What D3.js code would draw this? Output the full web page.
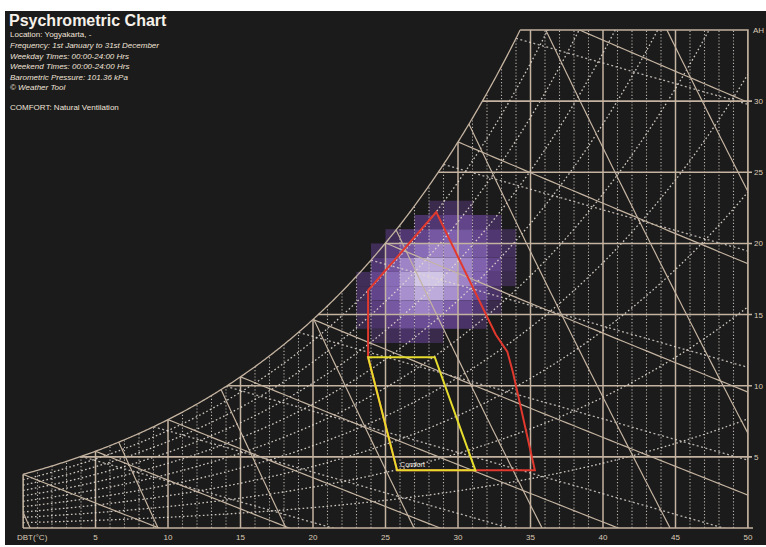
<!DOCTYPE html>
<html>
<head>
<meta charset="utf-8">
<script src="https://cdn.jsdelivr.net/npm/d3@7"></script>
<style>
  body { margin: 0; background: #ffffff; }
  svg { display: block; font-family: "Liberation Sans", Arial, sans-serif; }
</style>
</head>
<body>
<svg id="chart" width="766" height="547"></svg>
<script>
// ---- chart furniture ----
const dbtTicks = [5, 10, 15, 20, 25, 30, 35, 40, 45, 50];
const ahTicks = [5, 10, 15, 20, 25, 30];
const rhCurves = [10, 20, 30, 40, 50, 60, 70, 80, 90];
const wbtLines = [0, 5, 10, 15, 20, 25, 30, 35];
const volumeLines = [0.775, 0.8, 0.825, 0.85, 0.875, 0.9, 0.925, 0.95];
const enthalpyStarts = [4, 9, 14, 19, 24, 29, 34];

// ---- hourly frequency distribution (hours per 1°C x 1 g/kg cell) ----
const freqDbt = [23, 24, 25, 26, 27, 28, 29, 30, 31, 32, 33];
const freqAh = [22, 21, 20, 19, 18, 17, 16, 15, 14, 13];
const freqHours = [
  [0, 0, 0, 0, 0, 10, 15, 10, 0, 0, 0],
  [0, 0, 0, 0, 20, 25, 35, 35, 25, 15, 0],
  [0, 0, 15, 25, 35, 45, 50, 45, 35, 25, 10],
  [0, 15, 30, 45, 55, 65, 65, 55, 45, 30, 15],
  [0, 25, 45, 65, 80, 80, 75, 65, 50, 35, 15],
  [15, 35, 55, 75, 90, 90, 80, 65, 50, 30, 10],
  [15, 35, 55, 70, 80, 80, 70, 55, 40, 20, 0],
  [15, 30, 45, 60, 65, 60, 50, 40, 25, 10, 0],
  [10, 20, 30, 40, 40, 40, 30, 20, 10, 0, 0],
  [0, 10, 15, 20, 20, 10, 0, 0, 0, 0, 0]
];

// ---- comfort zones (DBT °C, AH g/kg) ----
const comfortZone = [[23.8, 12.0], [28.4, 12.0], [31.2, 4.05], [25.8, 4.05]];
const ventilationZone = [[23.8, 12.0], [23.8, 16.7], [28.5, 22.2], [32.6, 13.6],
  [33.4, 12.4], [33.8, 10.9], [35.3, 4.05], [31.2, 4.05], [25.8, 4.05]];

const infoLines = [
  { text: "Location: Yogyakarta, -", italic: false },
  { text: "Frequency: 1st January to 31st December", italic: true },
  { text: "Weekday Times: 00:00-24:00 Hrs", italic: true },
  { text: "Weekend Times: 00:00-24:00 Hrs", italic: true },
  { text: "Barometric Pressure: 101.36 kPa", italic: true },
  { text: "© Weather Tool", italic: true }
];

// ---- psychrometrics ----
const P = 101.35;
const pws = t => 0.61094 * Math.exp(17.625 * t / (t + 243.04));
const ahAt = (t, rh) => { const p = rh * pws(t); return 622 * p / (P - p); };
function satT(w) {
  let lo = -20, hi = 70;
  for (let i = 0; i < 60; i++) { const m = (lo + hi) / 2; if (ahAt(m, 1) < w) lo = m; else hi = m; }
  return (lo + hi) / 2;
}

const svg = d3.select("#chart");
const x = d3.scaleLinear().domain([0, 50]).range([23, 748]);
const y = d3.scaleLinear().domain([0, 35]).range([528, 30]);
const line = d3.line().x(d => x(d[0])).y(d => y(d[1]));

const SOLID = "#c4b3a0";
const DOT = "#e2dad2";

svg.append("rect").attr("x", 5).attr("y", 11).attr("width", 761).attr("height", 534).attr("fill", "#1b1b1b");

// region under the saturation curve
const tTop = satT(35);
const region = [];
for (let t = 0; t < tTop; t += 0.1) region.push([t, ahAt(t, 1)]);
region.push([tTop, 35], [50, 35], [50, 0], [0, 0]);
svg.append("clipPath").attr("id", "region").append("path").attr("d", line(region) + "Z");

// frequency cells
const color = d3.scaleSequential(d3.interpolateRgbBasis(["#3a2a4c", "#57397d", "#7f60b0", "#a88fd0", "#d2c6e6"]))
  .domain([10, 90]);
const cells = [];
freqAh.forEach((w, i) => freqDbt.forEach((t, j) => {
  if (freqHours[i][j] > 0) cells.push({ t, w, h: freqHours[i][j] });
}));
svg.append("g").selectAll("rect").data(cells).join("rect")
  .attr("x", d => x(d.t)).attr("y", d => y(d.w + 1))
  .attr("width", d => x(d.t + 1) - x(d.t)).attr("height", d => y(d.w) - y(d.w + 1))
  .attr("fill", d => color(d.h));

const grid = svg.append("g").attr("clip-path", "url(#region)").attr("fill", "none");

// dry bulb verticals
d3.range(0, 51).forEach(t => {
  const top = Math.min(ahAt(t, 1), 35);
  const major = t % 5 === 0;
  grid.append("path").attr("d", line([[t, 0], [t, top]]))
    .attr("stroke", major ? SOLID : DOT)
    .attr("stroke-width", major ? 1.5 : 1.1)
    .attr("stroke-dasharray", major ? null : "1.2,2")
    .attr("opacity", major ? 1 : 0.8);
});

// relative humidity curves
rhCurves.forEach(rh => {
  const pts = d3.range(0, 50.01, 0.25).map(t => [t, ahAt(t, rh / 100)]);
  grid.append("path").attr("d", line(pts)).attr("stroke", DOT)
    .attr("stroke-width", 1.3).attr("stroke-dasharray", "1.6,2.4").attr("opacity", 0.9);
});

// enthalpy lines
enthalpyStarts.forEach(t0 => {
  const w0 = ahAt(t0, 1);
  const pts = [[t0, w0], [60, w0 - 0.29 * (60 - t0)]];
  grid.append("path").attr("d", line(pts)).attr("stroke", DOT)
    .attr("stroke-width", 1.3).attr("stroke-dasharray", "2,2.5").attr("opacity", 0.8);
});

// wet bulb lines
wbtLines.forEach(tw => {
  const wsw = ahAt(tw, 1) / 1000;
  const pts = [];
  for (let t = tw; t <= 60; t += 0.5) {
    const w = ((2501 - 2.326 * tw) * wsw - 1.006 * (t - tw)) / (2501 + 1.86 * t - 4.186 * tw) * 1000;
    pts.push([t, w]);
    if (w < 0) break;
  }
  grid.append("path").attr("d", line(pts)).attr("stroke", SOLID).attr("stroke-width", 1.2);
});

// specific volume lines
volumeLines.forEach(v => {
  const pts = d3.range(0, 36.01, 0.5).map(w => [v * P / (0.287042 * (1 + 1.607858 * w / 1000)) - 273.15, w]);
  grid.append("path").attr("d", line(pts)).attr("stroke", SOLID).attr("stroke-width", 1.2);
});

// absolute humidity horizontals and frame
const frame = svg.append("g").attr("fill", "none").attr("stroke", SOLID);
ahTicks.forEach(w => {
  frame.append("line").attr("x1", x(satT(w))).attr("x2", 752).attr("y1", y(w)).attr("y2", y(w))
    .attr("stroke-width", 1.6);
});
const satPts = d3.range(0, tTop, 0.1).map(t => [t, ahAt(t, 1)]).concat([[tTop, 35]]);
frame.append("path").attr("d", line(satPts)).attr("stroke-width", 1.3);
frame.append("path").attr("d", line([[tTop, 35], [50, 35], [50, 0]])).attr("stroke-width", 1.5);
frame.append("line").attr("x1", x(0)).attr("x2", 753).attr("y1", y(0)).attr("y2", y(0)).attr("stroke-width", 1.6);
frame.append("path").attr("d", line([[0, 0], [0, ahAt(0, 1)]])).attr("stroke-width", 1.3);

// comfort zones
svg.append("path").attr("d", line(ventilationZone) + "Z").attr("fill", "none")
  .attr("stroke", "#e2392f").attr("stroke-width", 2);
svg.append("path").attr("d", line(comfortZone) + "Z").attr("fill", "none")
  .attr("stroke", "#e6dc2e").attr("stroke-width", 2);
svg.append("text").attr("x", x(comfortZone[3][0]) + 3).attr("y", y(comfortZone[3][1]) - 3)
  .attr("fill", "#f2ece4").attr("font-size", 7).text("Comfort");

// axes labels
const lab = svg.append("g").attr("fill", "#dccbb6").attr("font-size", 8);
lab.selectAll(".xt").data(dbtTicks).join("text").attr("class", "xt")
  .attr("x", d => x(d)).attr("y", 540).attr("text-anchor", "middle").text(d => d);
lab.append("text").attr("x", 17).attr("y", 540).text("DBT(°C)");
lab.selectAll(".yt").data(ahTicks).join("text").attr("class", "yt")
  .attr("x", 754).attr("y", d => y(d) + 3).text(d => d);
lab.append("text").attr("x", 753).attr("y", 33).text("AH");

// header
svg.append("text").attr("x", 9).attr("y", 26).attr("fill", "#f6f1ea")
  .attr("font-size", 16).attr("font-weight", "bold").text("Psychrometric Chart");
const info = svg.append("g").attr("fill", "#f0e3d8").attr("font-size", 8);
infoLines.forEach((d, i) => {
  info.append("text").attr("x", 10).attr("y", 37.3 + 10.6 * i)
    .attr("font-style", d.italic ? "italic" : null).text(d.text);
});
info.append("text").attr("x", 10).attr("y", 110).text("COMFORT: Natural Ventilation");
</script>
</body>
</html>
